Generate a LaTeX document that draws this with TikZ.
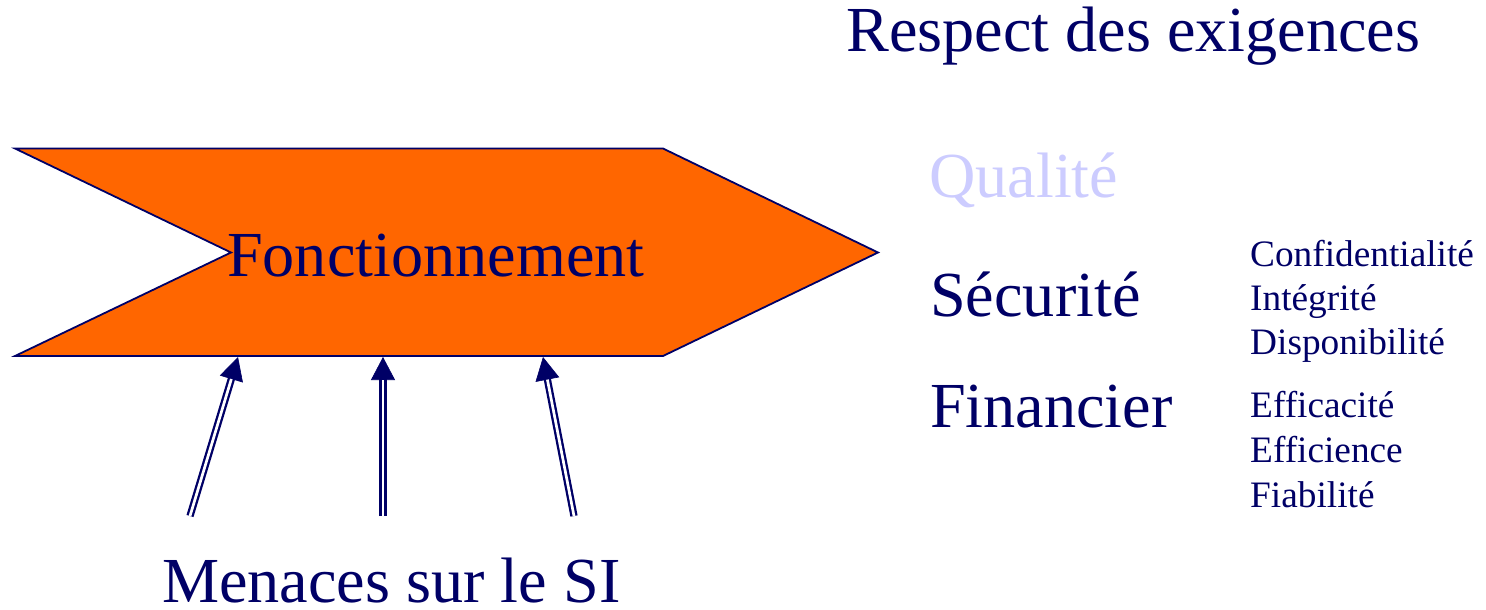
\documentclass[tikz,border=0pt]{standalone}
\usepackage{fontspec}
\setmainfont{Liberation Serif}
\usetikzlibrary{arrows.meta}
\definecolor{navyc}{HTML}{000066}
\definecolor{orangec}{HTML}{FF6600}
\definecolor{lavc}{HTML}{CCCCFF}
\tikzset{
  big/.style={inner sep=0pt, anchor=base west, text=navyc, font=\fontsize{64.2}{70}\selectfont},
  small/.style={inner sep=0pt, anchor=base west, text=navyc, font=\fontsize{37.3}{44}\selectfont},
  headtip/.style={draw=navyc, fill=navyc, line width=0.6pt, -{Triangle[length=23pt,width=24pt]}},
  dblouter/.style={draw=navyc, line width=7.3pt, shorten >=21pt},
  dblinner/.style={draw=white, line width=2.7pt, shorten >=23pt},
}
\newcommand{\dblarr}[2]{%
  \draw[headtip] (#1) -- (#2);
  \draw[dblouter] (#1) -- (#2);
  \draw[dblinner] (#1) -- (#2);
}
\begin{document}
\begin{tikzpicture}[x=1pt,y=-1pt]
\useasboundingbox (0,0) rectangle (1486,610);
% chevron
\coordinate (tl) at (15,148.5);
\coordinate (tr) at (663,148.5);
\coordinate (tip) at (878,252.5);
\coordinate (br) at (663,356);
\coordinate (bl) at (15,356);
\coordinate (notch) at (231,252.5);
\draw[draw=navyc, fill=orangec, line width=1.8pt, line join=miter]
  (tl) -- (tr) -- (tip) -- (br) -- (bl) -- (notch) -- cycle;
\node[big] (fonct) at (227,276) {Fonctionnement};
% arrows
\coordinate (t1) at (190,516);
\coordinate (h1) at (238,357);
\coordinate (t2) at (383,516);
\coordinate (h2) at (383,357);
\coordinate (t3) at (574,516);
\coordinate (h3) at (543,357);
\dblarr{t1}{h1}
\dblarr{t2}{h2}
\dblarr{t3}{h3}
\node[big] (menaces) at (162,602.5) {Menaces sur le SI};
% right side
\node[big] (respect) at (846,52) {Respect des exigences};
\node[big, text=lavc] (qual) at (929,197) {Qualité};
\node[big] (secu) at (930,316) {Sécurité};
\node[big] (fin) at (930,427) {Financier};
\node[small] (conf) at (1250,266) {Confidentialité};
\node[small] (integ) at (1250,310) {Intégrité};
\node[small] (dispo) at (1250,354) {Disponibilité};
\node[small] (effica) at (1250,417) {Efficacité};
\node[small] (effici) at (1250,462) {Efficience};
\node[small] (fiab) at (1250,507) {Fiabilité};
\end{tikzpicture}
\end{document}
